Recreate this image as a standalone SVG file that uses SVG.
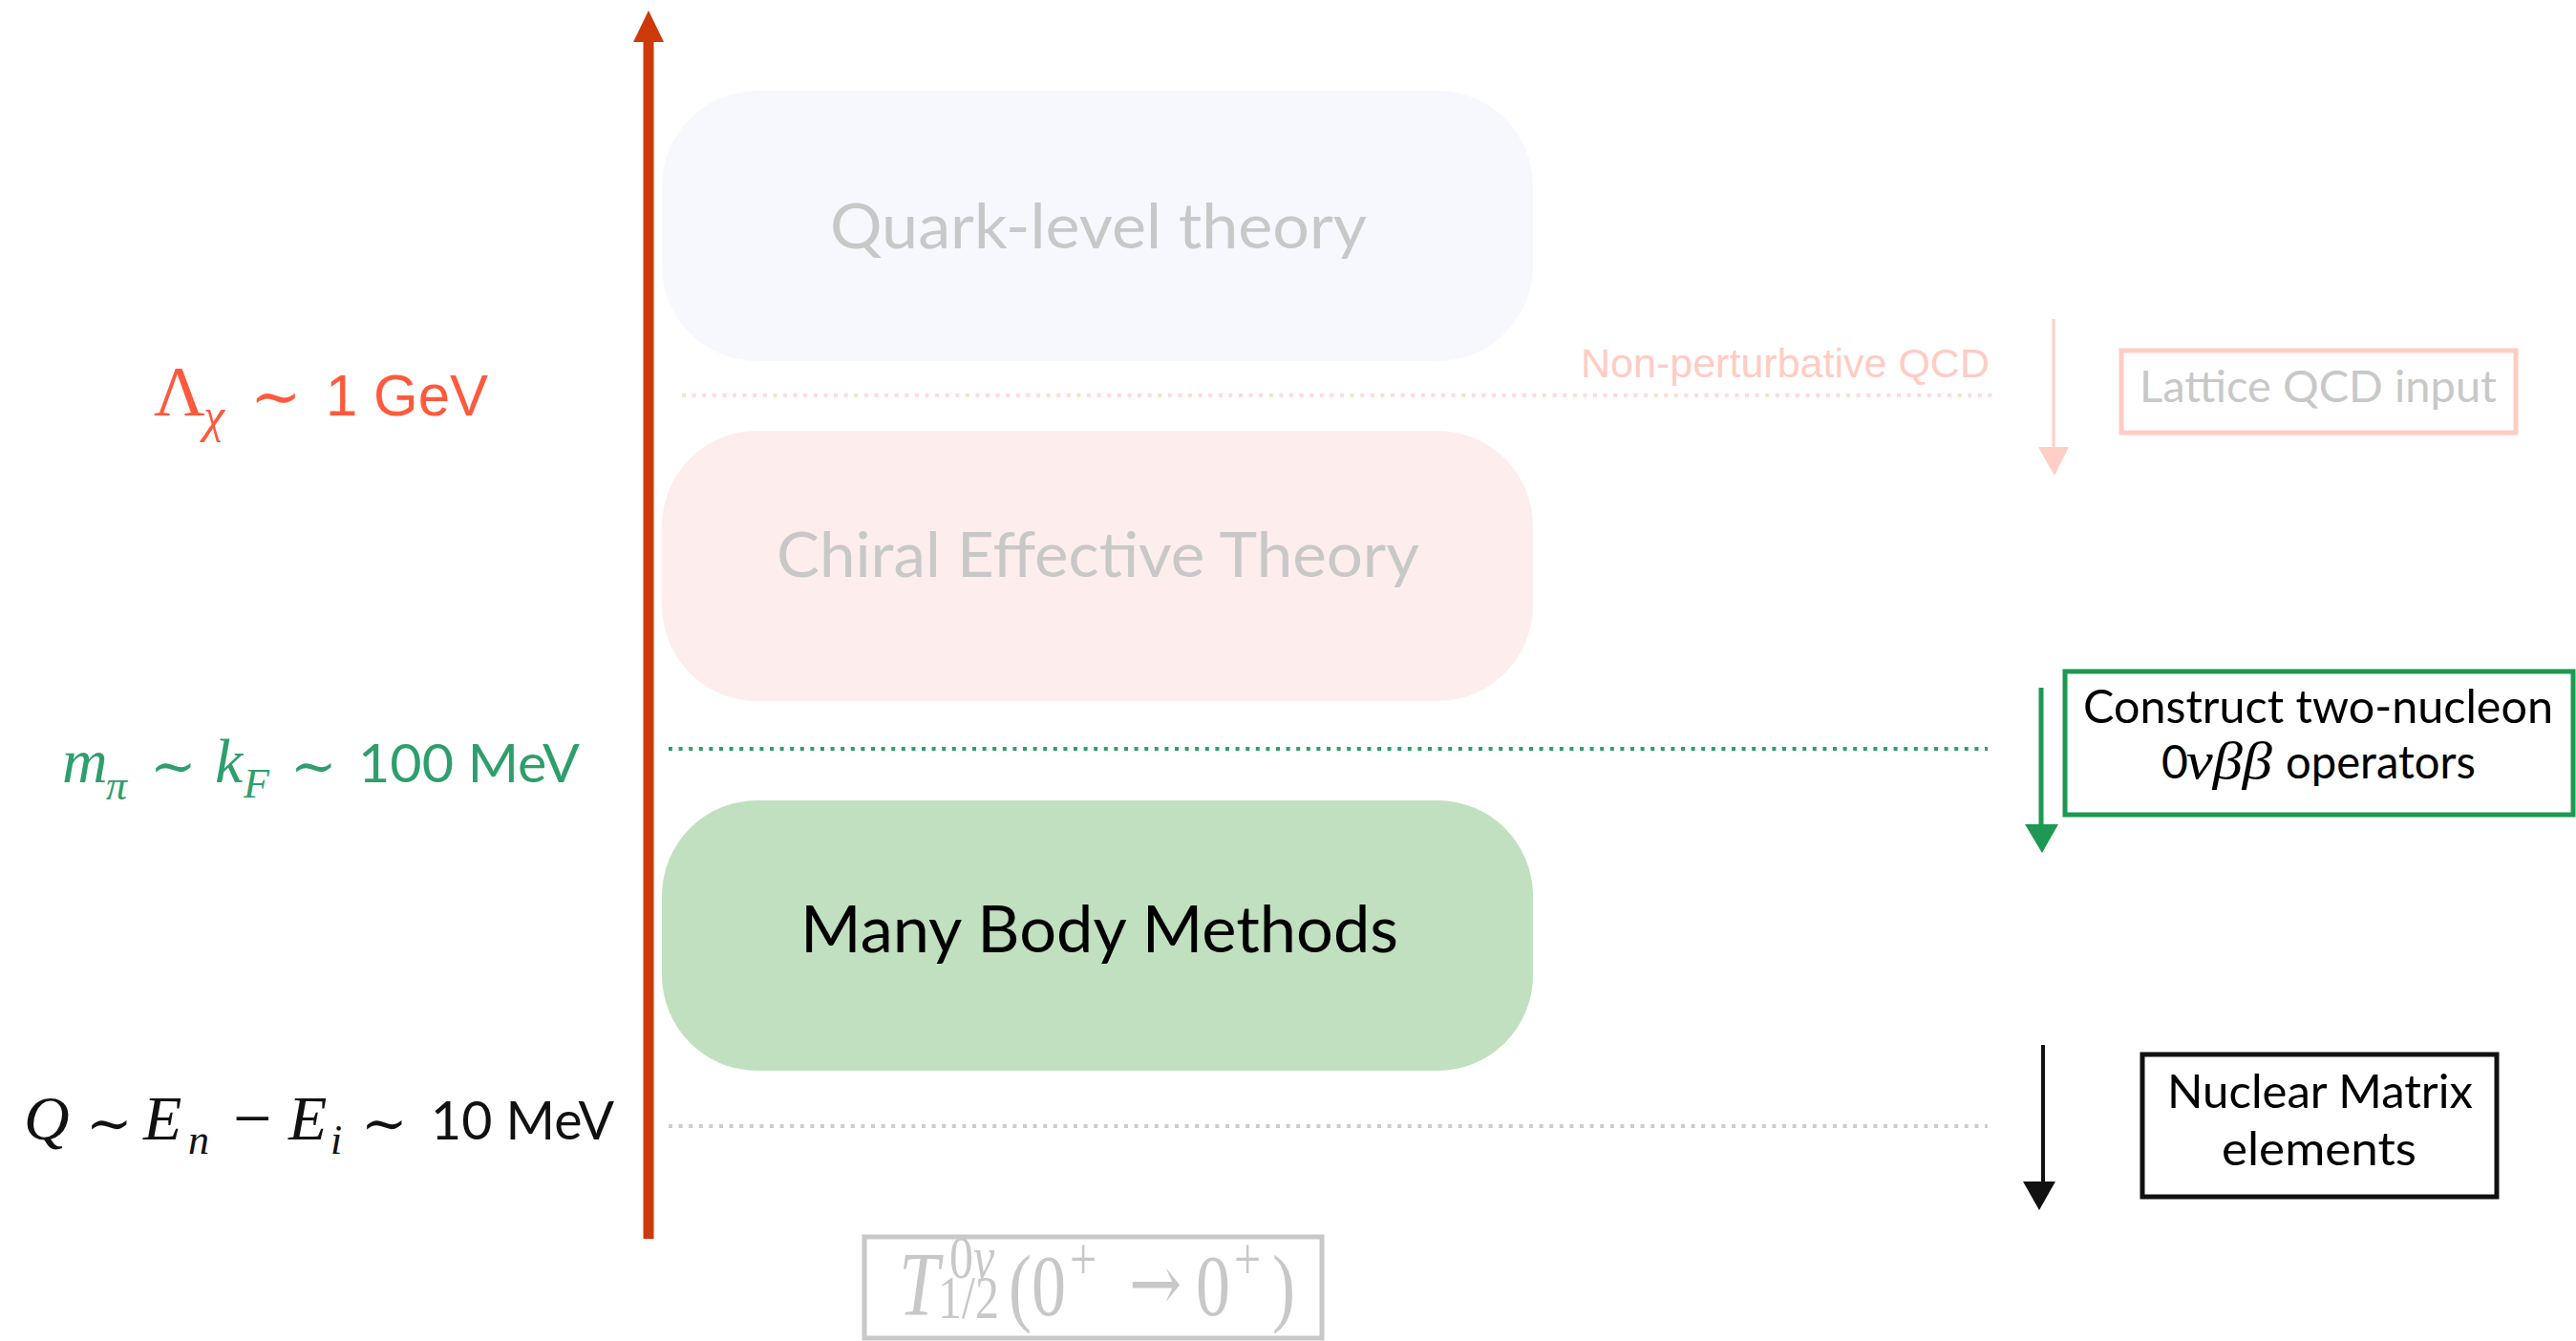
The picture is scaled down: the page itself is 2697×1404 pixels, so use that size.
<svg xmlns="http://www.w3.org/2000/svg" width="2697" height="1404" viewBox="0 0 2697 1404">
<style>
.sans{font-family:Lato,"Open Sans","Liberation Sans",sans-serif}
.hel{font-family:"Liberation Sans",Arial,sans-serif}
.it{font-family:"Liberation Serif","DejaVu Serif",serif;font-style:italic}
.rm{font-family:"Liberation Serif","DejaVu Serif",serif}
.sim{font-family:"DejaVu Serif",serif}
.dot{fill:none;stroke-width:4;stroke-dasharray:4 6.6}
.frame{fill:#fff;stroke-width:5}
</style>
<rect width="2697" height="1404" fill="#fff"/>

<g id="quark">
<rect x="693" y="95" width="912" height="283" rx="100" ry="100" fill="#F7F8FE"/>
<text class="sans" x="869" y="260" font-size="66" fill="#C8C8C8" textLength="562" lengthAdjust="spacingAndGlyphs">Quark-level theory</text>
</g>
<g id="chiral">
<rect x="693" y="451" width="912" height="283" rx="100" ry="100" fill="#FDEDED"/>
<text class="sans" x="813" y="604" font-size="66" fill="#C8C8C8" textLength="673" lengthAdjust="spacingAndGlyphs">Chiral Effective Theory</text>
</g>
<g id="manybody">
<rect x="693" y="838" width="912" height="283" rx="100" ry="100" fill="#C1E0BF"/>
<text class="sans" x="838" y="997" font-size="67" fill="#000" textLength="626" lengthAdjust="spacingAndGlyphs">Many Body Methods</text>
</g>

<g id="connectors">
<line x1="679" y1="1297" x2="679" y2="40" stroke="#CC3A0B" stroke-width="11"/>
<polygon points="663,44 695,44 679,11" fill="#CC3A0B"/>
<line class="dot" x1="714" y1="414" x2="2092" y2="414" stroke="#FFDCD5"/>
<line class="dot" x1="700" y1="784" x2="2081" y2="784" stroke="#2E9E6B"/>
<line class="dot" x1="700" y1="1179" x2="2081" y2="1179" stroke="#CCCCCC"/>
<line x1="2150" y1="334" x2="2150" y2="470" stroke="#FFCFC6" stroke-width="3"/>
<polygon points="2134,468 2166,468 2151,498" fill="#FFCFC6"/>
<line x1="2137" y1="720" x2="2137" y2="866" stroke="#1E9852" stroke-width="5"/>
<polygon points="2120,863 2155,863 2138,893" fill="#1E9852"/>
<line x1="2139" y1="1094" x2="2139" y2="1240" stroke="#111" stroke-width="4"/>
<polygon points="2118,1237 2152,1237 2135,1267" fill="#111"/>
</g>

<g id="label-nonpert">
<text class="hel" x="1655" y="395" font-size="42.5" fill="#FFCCC3" textLength="428" lengthAdjust="spacingAndGlyphs">Non-perturbative QCD</text>
</g>

<g id="lattice">
<rect class="frame" x="2221" y="367" width="413" height="86" stroke="#FFCCC3"/>
<text class="sans" x="2427" y="421" font-size="47" fill="#C8C8C8" text-anchor="middle" textLength="374" lengthAdjust="spacingAndGlyphs">Lattice QCD input</text>
</g>

<g id="construct">
<rect class="frame" x="2162" y="703" width="532" height="150" stroke="#1E9852"/>
<text class="sans" x="2427" y="757" font-size="48" fill="#000" text-anchor="middle" textLength="492" lengthAdjust="spacingAndGlyphs">Construct two-nucleon</text>
<text y="815" font-size="48" fill="#000"><tspan class="sans" x="2263">0</tspan><tspan class="it" x="2289" font-size="54" textLength="90" lengthAdjust="spacingAndGlyphs">νββ</tspan><tspan class="sans" x="2393" textLength="199" lengthAdjust="spacingAndGlyphs">operators</tspan></text>
</g>

<g id="nuclear">
<rect class="frame" x="2243" y="1104" width="371" height="149" stroke="#111"/>
<text class="sans" x="2429" y="1160" font-size="48" fill="#000" text-anchor="middle" textLength="320" lengthAdjust="spacingAndGlyphs">Nuclear Matrix</text>
<text class="sans" x="2428" y="1220" font-size="48" fill="#000" text-anchor="middle" textLength="204" lengthAdjust="spacingAndGlyphs">elements</text>
</g>

<g id="halflife">
<rect class="frame" x="905" y="1295" width="479" height="106" stroke="#C8C8C8"/>
<g transform="translate(0,1377) scale(1,1.25)" fill="#C8C8C8">
<text class="it" x="941" y="0" font-size="76">T</text>
<text x="994" y="-31" font-size="50"><tspan class="rm">0</tspan><tspan class="it">ν</tspan></text>
<text class="rm" x="982" y="2" font-size="50">1/2</text>
<text class="rm" x="1056" y="0" font-size="72">(0</text>
<text class="rm" x="1120" y="-30" font-size="50">+</text>
<text class="sim" x="1182" y="-4" font-size="66">→</text>
<text class="rm" x="1252" y="0" font-size="72">0</text>
<text class="rm" x="1292" y="-30" font-size="50">+</text>
<text class="rm" x="1332" y="0" font-size="72">)</text>
</g>
</g>

<g id="label-gev" fill="#FF5A3D">
<text class="rm" x="161" y="435" font-size="74">Λ</text>
<text class="it" x="213" y="452" font-size="50">χ</text>
<text class="sim" x="262" y="437" font-size="64">∼</text>
<text class="hel" x="341" y="435" font-size="62" textLength="170" lengthAdjust="spacingAndGlyphs">1 GeV</text>
</g>

<g id="label-100mev" fill="#2E9F6C">
<text class="it" x="65" y="819" font-size="66">m</text>
<text class="it" x="111" y="837" font-size="44">π</text>
<text class="sim" x="157" y="822" font-size="58">∼</text>
<text class="it" x="225" y="819" font-size="66">k</text>
<text class="it" x="255" y="835" font-size="44">F</text>
<text class="sim" x="304" y="822" font-size="58">∼</text>
<text class="sans" x="375" y="819" font-size="56" textLength="232" lengthAdjust="spacingAndGlyphs">100 MeV</text>
</g>

<g id="label-10mev" fill="#111">
<text class="it" x="25" y="1193" font-size="66">Q</text>
<text class="sim" x="90" y="1196" font-size="58">∼</text>
<text class="it" x="150" y="1193" font-size="66">E</text>
<text class="it" x="197" y="1208" font-size="44">n</text>
<text class="rm" x="244" y="1195" font-size="72">−</text>
<text class="it" x="302" y="1193" font-size="66">E</text>
<text class="it" x="346" y="1208" font-size="44">i</text>
<text class="sim" x="378" y="1196" font-size="58">∼</text>
<text class="sans" x="451" y="1193" font-size="56" textLength="192" lengthAdjust="spacingAndGlyphs">10 MeV</text>
</g>
</svg>
